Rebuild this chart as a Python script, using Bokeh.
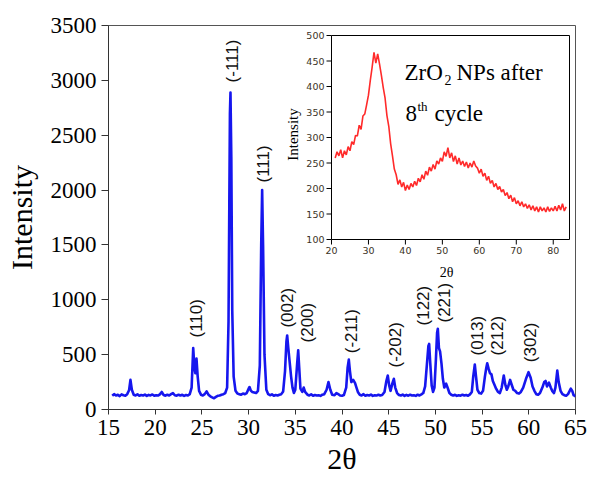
import math
from bokeh.plotting import figure
from bokeh.models import Range1d, FixedTicker
from bokeh.core.properties import value
from bokeh.embed import file_html
from bokeh.resources import INLINE

# ---------------- data ----------------
main_x = [15.4, 15.6, 15.8, 16.0, 16.2, 16.4, 16.6, 16.8, 17.0, 17.2, 17.35, 17.5, 17.7, 17.9, 18.1, 18.3, 18.5, 18.7,
          18.9, 19.1, 19.3, 19.5, 19.7, 19.9, 20.1, 20.3, 20.5, 20.7, 20.9, 21.1, 21.3, 21.5, 21.7, 21.9, 22.1, 22.3,
          22.5, 22.7, 22.9, 23.1, 23.3, 23.5, 23.7, 23.9, 24.07, 24.2, 24.3, 24.42, 24.55, 24.7, 24.9, 25.1, 25.3,
          25.5, 25.7, 25.9, 26.1, 26.3, 26.5, 26.7, 26.9, 27.1, 27.3, 27.5, 27.7, 27.85, 28.0, 28.06, 28.15, 28.25,
          28.4, 28.6, 28.8, 29.0, 29.2, 29.4, 29.6, 29.8, 30.0, 30.1, 30.25, 30.4, 30.6, 30.8, 31.0, 31.2, 31.35,
          31.45, 31.55, 31.7, 31.9, 32.1, 32.3, 32.5, 32.7, 32.9, 33.1, 33.3, 33.5, 33.7, 33.9, 34.05, 34.13, 34.25,
          34.4, 34.55, 34.7, 34.85, 35.0, 35.2, 35.31, 35.42, 35.55, 35.75, 35.9, 36.05, 36.3, 36.5, 36.7, 36.9,
          37.1, 37.3, 37.5, 37.7, 37.9, 38.1, 38.35, 38.55, 38.75, 38.95, 39.2, 39.4, 39.6, 39.8, 40.0, 40.2, 40.45,
          40.6, 40.73, 40.85, 41.0, 41.2, 41.4, 41.55, 41.7, 41.9, 42.1, 42.3, 42.5, 42.7, 42.9, 43.1, 43.3, 43.5,
          43.7, 43.9, 44.1, 44.3, 44.55, 44.75, 44.9, 45.05, 45.2, 45.4, 45.55, 45.7, 45.9, 46.1, 46.3, 46.5, 46.7,
          46.9, 47.1, 47.3, 47.5, 47.7, 47.9, 48.1, 48.3, 48.5, 48.7, 48.9, 49.1, 49.25, 49.33, 49.45, 49.6, 49.75,
          49.9, 50.05, 50.18, 50.26, 50.38, 50.5, 50.65, 50.8, 50.95, 51.15, 51.3, 51.5, 51.7, 51.9, 52.1, 52.3,
          52.5, 52.7, 52.9, 53.1, 53.3, 53.5, 53.7, 53.9, 54.05, 54.22, 54.35, 54.5, 54.7, 54.9, 55.1, 55.3, 55.45,
          55.55, 55.7, 55.85, 56.0, 56.15, 56.3, 56.5, 56.7, 56.9, 57.1, 57.32, 57.5, 57.65, 57.8, 58.0, 58.15,
          58.35, 58.55, 58.75, 58.95, 59.15, 59.4, 59.7, 59.97, 60.2, 60.4, 60.6, 60.8, 61.0, 61.2, 61.45, 61.65,
          61.8, 61.95, 62.16, 62.35, 62.5, 62.7, 62.85, 63.05, 63.2, 63.4, 63.6, 63.8, 64.0, 64.2, 64.35, 64.5,
          64.65, 64.8, 65.0]
main_y = [125, 140, 128, 135, 122, 138, 130, 126, 140, 175, 270, 180, 135, 128, 138, 125, 132, 128,
          136, 124, 133, 128, 137, 125, 130, 127, 138, 160, 132, 126, 135, 128, 140, 150, 130, 126,
          135, 128, 134, 124, 132, 128, 140, 200, 560, 380, 330, 465, 300, 170, 135, 128, 140,
          165, 135, 120, 110, 102, 115, 125, 128, 135, 140, 150, 200, 800, 2700, 2890, 2300, 900,
          300, 170, 145, 140, 135, 145, 140, 150, 190, 205, 170, 160, 155, 150, 170, 400, 1500,
          2000, 1500, 500, 180, 140, 130, 138, 125, 132, 128, 135, 140, 165, 350, 620, 675, 560,
          430, 300, 200, 150, 180, 420, 540, 380, 190, 160, 200, 160, 135, 128, 138, 125,
          132, 128, 130, 124, 135, 140, 180, 250, 180, 135, 130, 150, 140, 128, 125, 132, 200,
          380, 455, 350, 250, 270, 240, 200, 160, 135, 128, 140, 125, 132, 128, 136, 124, 130,
          127, 135, 128, 132, 160, 260, 310, 220, 170, 240, 280, 200, 150, 132, 128, 136, 124,
          133, 126, 135, 128, 130, 124, 135, 128, 138, 150, 210, 420, 580, 598, 420, 220, 160,
          200, 450, 700, 735, 560, 530, 420, 280, 200, 235, 200, 150, 135, 128, 134, 124,
          130, 126, 135, 128, 132, 125, 138, 160, 300, 410, 300, 180, 150, 145, 170, 300, 380,
          422, 370, 330, 320, 260, 230, 190, 160, 150, 200, 310, 220, 180, 210, 270, 230,
          180, 170, 150, 145, 160, 200, 280, 340, 290, 210, 170, 140, 135, 150, 200, 250,
          260, 210, 245, 200, 170, 150, 200, 355, 250, 170, 140, 130, 125, 140, 165, 190,
          170, 130, 120]

peak_labels = ["(110)", "(-111)", "(111)", "(002)", "(200)", "(-211)", "(-202)", "(122)", "(221)", "(013)", "(212)", "(302)"]
peak_label_x = [24.4, 28.3, 31.6, 34.16, 36.3, 40.99, 45.73, 48.76, 50.97, 54.48, 56.62, 60.18]
peak_label_y = [656, 2981, 2069, 747, 611, 513, 383, 766, 793, 492, 492, 431]

main_xticks = [15, 20, 25, 30, 35, 40, 45, 50, 55, 60, 65]
main_yticks = [0, 500, 1000, 1500, 2000, 2500, 3000, 3500]
main_xlim = (15, 65)
main_ylim = (0, 3500)

inset_x = [21.0, 21.5, 22.0, 22.5, 23.0, 23.5, 24.0, 24.5, 25.0, 25.5, 26.0, 26.5, 27.0, 27.5, 28.0, 28.5,
           29.0, 29.5, 30.0, 30.5, 31.0, 31.5, 32.0, 32.5, 33.0, 33.5, 34.0, 34.5, 35.0, 35.5, 36.0, 36.5,
           37.0, 37.5, 38.0, 38.5, 39.0, 39.5, 40.0, 40.5, 41.0, 41.5, 42.0, 42.5, 43.0, 43.5, 44.0, 44.5,
           45.0, 45.5, 46.0, 46.5, 47.0, 47.5, 48.0, 48.5, 49.0, 49.5, 50.0, 50.5, 51.0, 51.5, 52.0, 52.5,
           53.0, 53.5, 54.0, 54.5, 55.0, 55.5, 56.0, 56.5, 57.0, 57.5, 58.0, 58.5, 59.0, 59.5, 60.0, 60.5,
           61.0, 61.5, 62.0, 62.5, 63.0, 63.5, 64.0, 64.5, 65.0, 65.5, 66.0, 66.5, 67.0, 67.5, 68.0, 68.5,
           69.0, 69.5, 70.0, 70.5, 71.0, 71.5, 72.0, 72.5, 73.0, 73.5, 74.0, 74.5, 75.0, 75.5, 76.0, 76.5,
           77.0, 77.5, 78.0, 78.5, 79.0, 79.5, 80.0, 80.5, 81.0, 81.5, 82.0, 82.5, 83.0, 83.5]
inset_y = [260, 272, 264, 276, 260, 274, 266, 282, 274, 292, 286, 304, 303, 324, 316, 342,
           346, 364, 383, 412, 438, 467, 446, 464, 444, 422, 398, 377, 343, 322, 288, 264,
           238, 227, 208, 217, 203, 212, 196, 207, 198, 210, 203, 214, 206, 220, 213, 227,
           218, 234, 226, 242, 234, 247, 238, 254, 248, 260, 253, 272, 263, 280, 260, 270,
           253, 264, 248, 260, 246, 254, 243, 252, 240, 250, 242, 254, 244, 240, 230, 238,
           224, 230, 216, 224, 210, 216, 203, 210, 198, 204, 193, 198, 186, 192, 180, 187,
           174, 182, 170, 176, 166, 174, 164, 170, 161, 168, 158, 166, 156, 164, 154, 164,
           156, 162, 154, 164, 155, 162, 156, 165, 156, 167, 158, 170, 156, 164]
inset_xticks = [20, 30, 40, 50, 60, 70, 80]
inset_yticks = [100, 150, 200, 250, 300, 350, 400, 450, 500]
inset_xlim = (20, 84.4)
inset_ylim = (100, 500)

# ---------------- geometry (pixels) ----------------
W, H = 589, 478
FL, FR, FT, FB = 108, 575, 25, 409          # main frame
IL, IR, IT, IB = 331, 569, 35, 239          # inset frame

sx = (IR - IL) / (inset_xlim[1] - inset_xlim[0])
sy = (IB - IT) / (inset_ylim[1] - inset_ylim[0])
ix0 = inset_xlim[0] - (IL - FL) / sx
ix1 = inset_xlim[1] + (FR - IR) / sx
iy0 = inset_ylim[0] - (FB - IB) / sy
iy1 = inset_ylim[1] + (IT - FT) / sy

def ipx(px, py):
    """pixel -> inset data coords"""
    return inset_xlim[0] + (px - IL) / sx, inset_ylim[0] + (IB - py) / sy

SERIF = "Liberation Serif"
SANS = "Liberation Sans"

p = figure(width=W, height=H, x_range=Range1d(*main_xlim), y_range=Range1d(*main_ylim),
           output_backend="svg", toolbar_location=None,
           min_border_left=FL, min_border_right=W - FR, min_border_top=FT, min_border_bottom=H - FB)
p.extra_x_ranges = {"ix": Range1d(ix0, ix1)}
p.extra_y_ranges = {"iy": Range1d(iy0, iy1)}

p.grid.visible = False
p.outline_line_color = "#555555"
p.outline_line_width = 1
p.background_fill_color = "white"
p.border_fill_color = "white"

for ax, ticks, tout in ((p.xaxis[0], main_xticks, 5), (p.yaxis[0], main_yticks, 7)):
    ax.ticker = FixedTicker(ticks=ticks)
    ax.major_tick_out = tout
    ax.major_tick_in = 0
    ax.minor_tick_line_color = None
    ax.axis_line_color = "#333333"
    ax.major_tick_line_color = "#333333"
    ax.major_label_text_font = SERIF
    ax.major_label_text_font_size = "23px"
    ax.major_label_text_color = "black"
    ax.major_label_standoff = 5
    ax.axis_label_text_font = SERIF
    ax.axis_label_text_font_size = "30px"
    ax.axis_label_text_font_style = "normal"
    ax.axis_label_text_color = "black"

p.xaxis.axis_label = "2θ"
p.yaxis.axis_label = "Intensity"
p.xaxis.axis_label_standoff = 4
p.yaxis.axis_label_standoff = 10

# main pattern
p.line(main_x, main_y, line_color="#1616ee", line_width=2.6, line_join="round")

# peak labels
p.text(x=peak_label_x, y=peak_label_y, text=peak_labels, angle=math.pi / 2,
       text_align="left", text_baseline="middle", text_font=value(SANS),
       text_font_size="17px", text_color="#111111")

# ---------------- inset ----------------
R = dict(x_range_name="ix", y_range_name="iy")
p.line(inset_x, inset_y, line_color="#ff2a2a", line_width=1.6, **R)
p.quad(left=[inset_xlim[0]], right=[inset_xlim[1]], bottom=[inset_ylim[0]], top=[inset_ylim[1]],
       fill_color=None, line_color="black", line_width=1, **R)

tk = 5
p.segment(x0=[inset_xlim[0]] * len(inset_yticks), x1=[inset_xlim[0] - tk / sx] * len(inset_yticks),
          y0=inset_yticks, y1=inset_yticks, line_color="black", line_width=1, **R)
p.segment(x0=inset_xticks, x1=inset_xticks, y0=[inset_ylim[0]] * len(inset_xticks),
          y1=[inset_ylim[0] - tk / sy] * len(inset_xticks), line_color="black", line_width=1, **R)

p.text(x=[inset_xlim[0] - 7 / sx] * len(inset_yticks), y=inset_yticks, text=[str(v) for v in inset_yticks],
       text_align="right", text_baseline="middle", text_font=value("DejaVu Sans"),
       text_font_size="9.5px", text_color="#3a3326", **R)
p.text(x=inset_xticks, y=[inset_ylim[0] - 7 / sy] * len(inset_xticks), text=[str(v) for v in inset_xticks],
       text_align="center", text_baseline="top", text_font=value("DejaVu Sans"),
       text_font_size="9.5px", text_color="#3a3326", **R)

lx, ly = ipx(292, (IT + IB) / 2 - 3)
p.text(x=[lx], y=[ly], text=["Intensity"], angle=math.pi / 2, text_align="center", text_baseline="middle",
       text_font=value(SERIF), text_font_size="15px", text_color="black", **R)
lx, ly = ipx(446, 272)
p.text(x=[lx], y=[ly], text=["2θ"], text_align="center", text_baseline="middle",
       text_font=value(SERIF), text_font_size="14px", text_color="black", **R)

# annotation: ZrO2 NPs after / 8th cycle
def ann(txt, px, py, size):
    x, y = ipx(px, py)
    p.text(x=[x], y=[y], text=[txt], text_align="left", text_baseline="alphabetic",
           text_font=value(SERIF), text_font_size=size, text_color="black", **R)

ann("ZrO", 404, 72, "23px")
ann("2", 444, 79, "14px")
ann("NPs after", 456, 72, "23px")
ann("8", 405, 113, "23px")
ann("th", 417, 106, "13px")
ann("cycle", 434, 113, "23px")

open("out.html", "w").write(file_html(p, INLINE))
